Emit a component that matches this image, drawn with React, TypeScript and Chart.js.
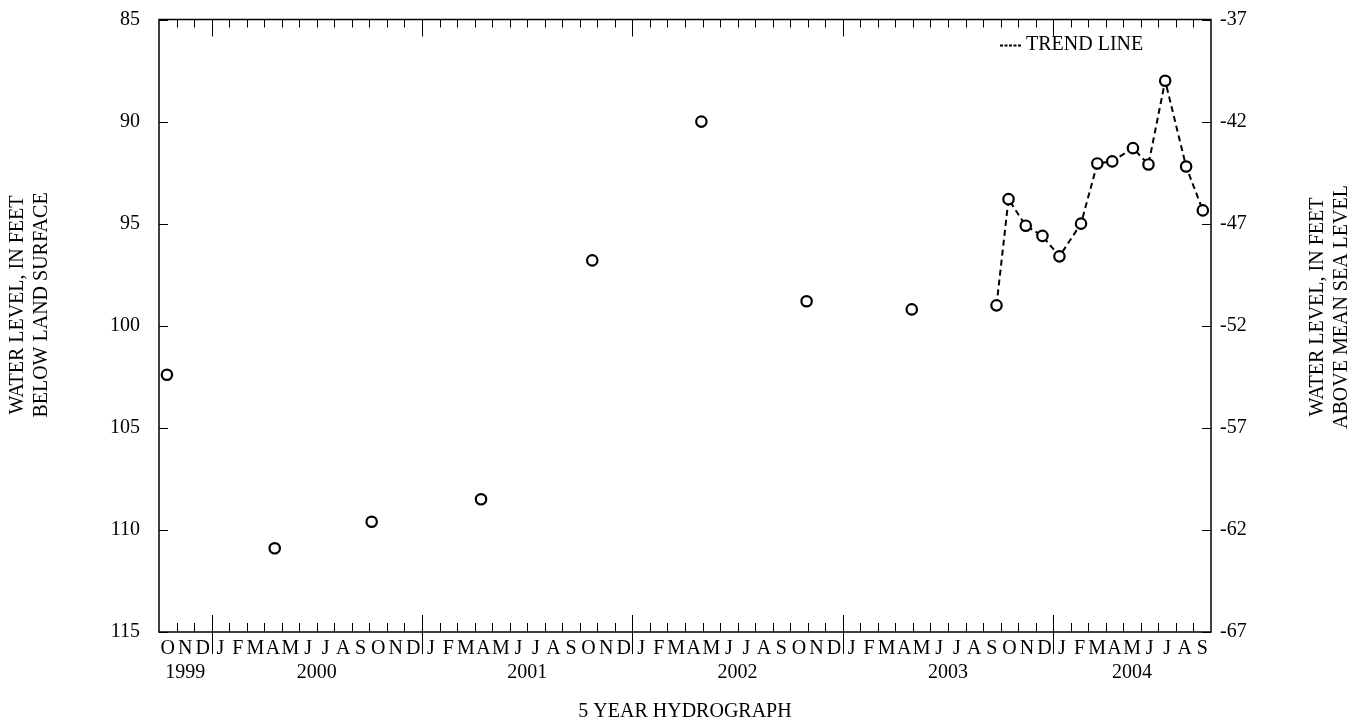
import React, { useEffect, useRef } from "react";
import { Chart, registerables } from "chart.js";

Chart.register(...registerables);

const FONT = "'Liberation Serif', 'Times New Roman', Times, serif";

// Month letters along the x axis, Oct 1999 .. Sep 2004
const monthLetters = [
  "O", "N", "D",
  "J", "F", "M", "A", "M", "J", "J", "A", "S", "O", "N", "D",
  "J", "F", "M", "A", "M", "J", "J", "A", "S", "O", "N", "D",
  "J", "F", "M", "A", "M", "J", "J", "A", "S", "O", "N", "D",
  "J", "F", "M", "A", "M", "J", "J", "A", "S", "O", "N", "D",
  "J", "F", "M", "A", "M", "J", "J", "A", "S",
];
const yearLabels = ["1999", "2000", "2001", "2002", "2003", "2004"];
const yearStartMonth = [0, 3, 15, 27, 39, 51];
const yearEndMonth = [3, 15, 27, 39, 51, 60];

const leftTicks = [85, 90, 95, 100, 105, 110, 115];
const rightTicks = [-67, -62, -57, -52, -47, -42, -37];

// Periodic measurements (not connected)
const sampleDates = [
  "1999-10-15", "2000-04-19", "2000-10-05", "2001-04-12",
  "2001-10-23", "2002-04-29", "2002-10-30", "2003-04-29",
];
const sampleDepths = [102.4, 110.9, 109.6, 108.5, 96.8, 90.0, 98.8, 99.2];

// Monthly measurements joined by the trend line
const trendDates = [
  "2003-09-24", "2003-10-15", "2003-11-14", "2003-12-13", "2004-01-12",
  "2004-02-18", "2004-03-17", "2004-04-12", "2004-05-18", "2004-06-14",
  "2004-07-13", "2004-08-19", "2004-09-17",
];
const trendDepths = [99.0, 93.8, 95.1, 95.6, 96.6, 95.0, 92.05, 91.95, 91.3, 92.1, 88.0, 92.2, 94.35];

// months elapsed since 1 Oct 1999
function toMonths(d: string): number {
  const [y, m, day] = d.split("-").map(Number);
  const dim = new Date(y, m, 0).getDate();
  return (y - 1999) * 12 + (m - 10) + (day - 1) / dim;
}

const FS = 20;

const decorPlugin = {
  id: "decor",
  afterDraw(chart: any) {
    const ctx = chart.ctx;
    const { left, right, top, bottom } = chart.chartArea;
    const xs = chart.scales.x;
    const yl = chart.scales.y;
    const yr = chart.scales.y2;
    ctx.save();
    ctx.strokeStyle = "#000";
    ctx.fillStyle = "#000";

    // frame
    ctx.lineWidth = 1.5;
    ctx.strokeRect(left, top, right - left, bottom - top);

    // x ticks
    ctx.lineWidth = 1;
    for (let m = 1; m < monthLetters.length; m++) {
      const px = Math.round(xs.getPixelForValue(m)) + 0.5;
      const isYear = yearStartMonth.includes(m);
      ctx.beginPath();
      ctx.moveTo(px, top);
      ctx.lineTo(px, top + (isYear ? 17 : 8));
      ctx.moveTo(px, bottom);
      ctx.lineTo(px, bottom - (isYear ? 17 : 9));
      if (isYear) {
        ctx.moveTo(px, bottom);
        ctx.lineTo(px, bottom + 22);
      }
      ctx.stroke();
    }

    // y ticks (inward)
    leftTicks.forEach((v) => {
      const py = Math.round(yl.getPixelForValue(v)) + 0.5;
      ctx.beginPath();
      ctx.moveTo(left, py);
      ctx.lineTo(left + 9, py);
      ctx.stroke();
    });
    rightTicks.forEach((v) => {
      const py = Math.round(yr.getPixelForValue(v)) + 0.5;
      ctx.beginPath();
      ctx.moveTo(right, py);
      ctx.lineTo(right - 9, py);
      ctx.stroke();
    });

    // month letters
    ctx.font = `${FS}px ${FONT}`;
    ctx.textAlign = "center";
    ctx.textBaseline = "middle";
    monthLetters.forEach((l, i) => {
      ctx.fillText(l, xs.getPixelForValue(i + 0.5), bottom + 17);
    });
    // years
    yearLabels.forEach((yl2, i) => {
      const c = (yearStartMonth[i] + yearEndMonth[i]) / 2;
      ctx.fillText(yl2, xs.getPixelForValue(c), bottom + 41);
    });

    // bottom title
    ctx.fillText("5 YEAR HYDROGRAPH", (left + right) / 2, bottom + 80);

    // left title
    ctx.save();
    ctx.translate(18, 305);
    ctx.rotate(-Math.PI / 2);
    ctx.fillText("WATER LEVEL, IN FEET", 0, 0);
    ctx.fillText("BELOW LAND SURFACE", 0, 24);
    ctx.restore();

    // right title
    ctx.save();
    ctx.translate(1318, 307);
    ctx.rotate(-Math.PI / 2);
    ctx.fillText("WATER LEVEL, IN FEET", 0, 0);
    ctx.fillText("ABOVE MEAN SEA LEVEL", 0, 24);
    ctx.restore();

    // legend
    ctx.lineWidth = 2;
    ctx.setLineDash([3, 1.5]);
    ctx.beginPath();
    ctx.moveTo(1000, 45.5);
    ctx.lineTo(1021, 45.5);
    ctx.stroke();
    ctx.setLineDash([]);
    ctx.textAlign = "left";
    ctx.fillText("TREND LINE", 1026, 45);

    ctx.restore();
  },
};

export default function App() {
  const ref = useRef<HTMLCanvasElement | null>(null);

  useEffect(() => {
    if (!ref.current) return;
    const samplePts = sampleDates.map((d, i) => ({ x: toMonths(d), y: sampleDepths[i] }));
    const trendPts = trendDates.map((d, i) => ({ x: toMonths(d), y: trendDepths[i] }));

    const chart = new Chart(ref.current, {
      type: "scatter",
      data: {
        datasets: [
          {
            label: "Measurements",
            data: samplePts,
            showLine: false,
            pointRadius: 5.2,
            pointBorderWidth: 2.2,
            borderColor: "#000",
            backgroundColor: "#fff",
          },
          {
            label: "TREND LINE",
            data: trendPts,
            showLine: true,
            borderDash: [6, 4],
            borderWidth: 2,
            borderColor: "#000",
            backgroundColor: "#fff",
            pointRadius: 5.2,
            pointBorderWidth: 2.2,
            pointBackgroundColor: "#fff",
            pointBorderColor: "#000",
          },
          {
            label: "centers",
            data: trendPts,
            showLine: false,
            pointRadius: 1.3,
            pointBorderWidth: 0,
            backgroundColor: "#000",
            borderColor: "#000",
          },
        ],
      },
      options: {
        animation: false,
        responsive: true,
        maintainAspectRatio: false,
        layout: { padding: { top: 19.5, bottom: 92, left: 0, right: 0 } },
        plugins: { legend: { display: false }, tooltip: { enabled: false } },
        scales: {
          x: {
            type: "linear",
            min: 0,
            max: 60,
            display: false,
          },
          y: {
            type: "linear",
            position: "left",
            min: 85,
            max: 115,
            reverse: true,
            afterBuildTicks: (s: any) => {
              s.ticks = leftTicks.map((v) => ({ value: v }));
            },
            afterFit: (s: any) => {
              s.width = 159;
              s.paddingTop = 0;
              s.paddingBottom = 0;
            },
            ticks: {
              font: { family: FONT, size: FS },
              color: "#000",
              padding: 19,
            },
            grid: { display: true, drawOnChartArea: false, drawTicks: false },
            border: { display: false },
          },
          y2: {
            type: "linear",
            position: "right",
            min: -67,
            max: -37,
            afterBuildTicks: (s: any) => {
              s.ticks = rightTicks.map((v) => ({ value: v }));
            },
            afterFit: (s: any) => {
              s.width = 148;
              s.paddingTop = 0;
              s.paddingBottom = 0;
            },
            ticks: {
              font: { family: FONT, size: FS },
              color: "#000",
              padding: 9,
            },
            grid: { display: true, drawOnChartArea: false, drawTicks: false },
            border: { display: false },
          },
        },
      },
      plugins: [decorPlugin],
    });
    return () => chart.destroy();
  }, []);

  return (
    <div style={{ position: "fixed", left: 0, top: 0, width: 1359, height: 724, background: "#fff" }}>
      <canvas ref={ref} />
    </div>
  );
}
